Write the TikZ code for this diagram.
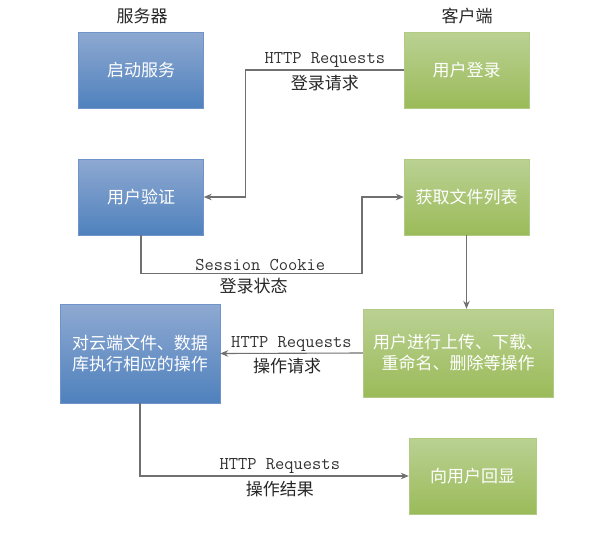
\documentclass[tikz,border=0pt]{standalone}
\usepackage{fontspec}
\newfontfamily\cjk{Noto Sans CJK SC}
\usetikzlibrary{arrows.meta, calc}

\definecolor{srvtop}{RGB}{142,169,209}
\definecolor{srvbot}{RGB}{79,129,189}
\definecolor{srvline}{RGB}{112,148,202}
\definecolor{clitop}{RGB}{186,209,147}
\definecolor{clibot}{RGB}{155,187,89}
\definecolor{cliline}{RGB}{178,203,132}
\definecolor{linkgray}{RGB}{112,112,112}

\begin{document}
\begin{tikzpicture}[
        x=1pt, y=-1pt,
        >={Stealth[length=8pt, width=6.5pt]},
        server/.style={draw=srvline, top color=srvtop, bottom color=srvbot,
            text=white, font=\cjk\fontsize{17}{21}\selectfont, align=center,
            minimum width=125pt, minimum height=76pt, inner sep=0pt},
        client/.style={server, draw=cliline, top color=clitop, bottom color=clibot},
        header/.style={font=\cjk\fontsize{17}{20}\selectfont, text=black!85},
        link/.style={->, draw=linkgray, line width=1.1pt},
        req/.style={font=\ttfamily\fontsize{18}{20}\selectfont, text=black!80, inner sep=1.5pt},
        note/.style={font=\cjk\fontsize{17}{20}\selectfont, text=black!85, inner sep=4.5pt}
    ]

\useasboundingbox (0,0) rectangle (590,552);

% 两列标题
        \node[header] (srvhead) at (142,16) {服务器};
        \node[header] (clihead) at (467,16) {客户端};

% 服务器端
        \node[server] (start) at (141,70) {启动服务};
        \node[server] (verify) at (141,197) {用户验证};
        \node[server, minimum width=160pt, minimum height=99pt] (ops) at (140,353.5)
            {对云端文件、数据\\库执行相应的操作};

% 客户端
        \node[client] (login) at (466.5,70) {用户登录};
        \node[client] (list) at (466.5,197) {获取文件列表};
        \node[client, minimum width=190pt, minimum height=88pt] (userops) at (458,353)
            {用户进行上传、下载、\\重命名、删除等操作};
        \node[client, minimum width=127pt] (echo) at (472.5,476) {向用户回显};

% 登录请求
        \draw[link] (login.west) -- ++(-158,0)
            node[midway, above, req] (req1) {HTTP Requests}
            node[midway, below, note] (note1) {登录请求}
            |- (verify.east);

% 登录状态
        \draw[link] (verify.south) -- ++(0,38) -- ++(221,0)
            node[pos=0.54, above, req] (req2) {Session Cookie}
            node[pos=0.51, below, note] (note2) {登录状态}
            |- (list.west);

% 获取列表后操作
        \draw[link] (list.south) -- (list.south |- userops.north);

% 操作请求
        \draw[link] (userops.west) -- (ops.east)
            node[midway, above, req] (req3) {HTTP Requests}
            node[pos=0.53, below, note] (note3) {操作请求};

% 操作结果
        \draw[link] (ops.south) |- (echo.west)
            node[pos=0.76, above, req] (req4) {HTTP Requests}
            node[pos=0.76, below, note] (note4) {操作结果};
    \end{tikzpicture}
\end{document}
